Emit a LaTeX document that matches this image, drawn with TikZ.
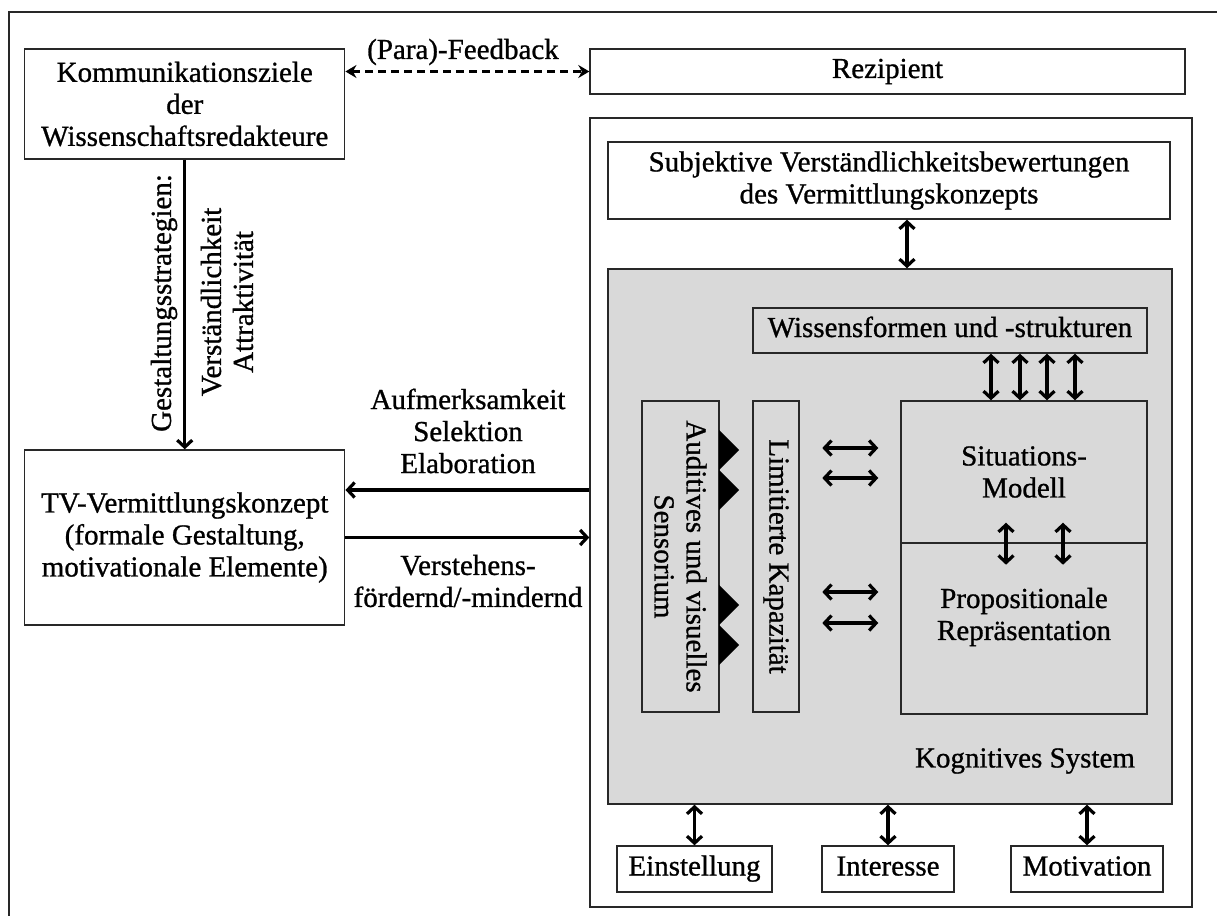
\documentclass[tikz,border=0pt]{standalone}
\usepackage{fontspec}
\setmainfont{Liberation Serif}[FakeBold=0.9]
\usetikzlibrary{arrows.meta,calc}
\definecolor{boxline}{RGB}{40,40,40}
\definecolor{kogfill}{RGB}{217,217,217}
\begin{document}
\begin{tikzpicture}[x=1pt,y=-1pt,
  every node/.style={font=\fontsize{29}{32}\selectfont, align=center},
  box/.style={draw=boxline, line width=1.4pt, inner sep=0pt},
  oneline/.style={text height=19pt, text depth=6pt},
  frame/.style={draw=boxline, line width=2pt},
  barb/.tip={Straight Barb[length=7pt,width=15pt]},
  arr/.style={line width=3.2pt, -barb},
  darr/.style={line width=3.2pt, barb-barb},
  feedarr/.style={line width=2.8pt, dash pattern=on 8pt off 5pt,
    {Stealth[length=11pt,width=13pt]}-{Stealth[length=11pt,width=13pt]}}
]
\useasboundingbox (0,0) rectangle (1217,915);
\begin{scope}
  \clip (0,0) rectangle (1217,915);
  \draw[frame] (9,12) rectangle (1240,940);
\end{scope}

% left column
\node[box, minimum width=320pt, minimum height=110pt] (komm) at (184.75,104)
  {Kommunikationsziele\\der\\Wissenschaftsredakteure};
\node[box, minimum width=320pt, minimum height=175pt] (tv) at (184.75,537.5)
  {TV-Vermittlungskonzept\\(formale Gestaltung,\\motivationale Elemente)};

% recipient
\node[box, oneline, minimum width=595pt, minimum height=45pt] (rez) at (887.5,71.5) {Rezipient};
\node[box, minimum width=602pt, minimum height=789pt] (cont) at (891,512.5) {};
\node[box, minimum width=562pt, minimum height=77pt] (subj) at (889,180.5)
  {Subjektive Verständlichkeitsbewertungen\\des Vermittlungskonzepts};

% cognitive system
\node[box, fill=kogfill, minimum width=564pt, minimum height=535pt] (kog) at (890,536.5) {};
\node (kogL) at (1025,761) {Kognitives System};
\node[box, oneline, minimum width=394pt, minimum height=45pt] (wiss) at (950,330.5)
  {Wissensformen und -strukturen};
\node[box, rotate=-90, minimum width=311pt, minimum height=77pt] (sens) at (680.5,556.5)
  {Auditives und visuelles\\Sensorium};
\node[box, rotate=-90, minimum width=311pt, minimum height=46pt] (lim) at (776,556.5)
  {Limitierte Kapazität};
\node[box, minimum width=246pt, minimum height=142pt] (sit) at (1024,472)
  {Situations-\\Modell};
\node[box, minimum width=246pt, minimum height=171pt] (prop) at (1024,628.5) {};
\node (propL) at (1024,617) {Propositionale\\Repräsentation};

% sensory input markers
\foreach \y in {450,490,605,645}
  \fill (719,\y-20) -- (739,\y) -- (719,\y+20) -- cycle;

% attitude boxes
\node[box, oneline, minimum width=155pt, minimum height=46pt] (einst) at (694.5,869) {Einstellung};
\node[box, oneline, minimum width=132pt, minimum height=46pt] (inter) at (888,869) {Interesse};
\node[box, oneline, minimum width=152pt, minimum height=46pt] (motiv) at (1087,869) {Motivation};

% labels
\node (feed) at (463,52) {(Para)-Feedback};
\node (ase) at (468,431) {Aufmerksamkeit\\Selektion\\Elaboration};
\node (vst) at (468,581) {Verstehens-\\fördernd/-mindernd};
\node[rotate=90] (gest) at (164,303) {Gestaltungsstrategien:};
\node[rotate=90] (verst) at (227,302) {Verständlichkeit\\Attraktivität};

% connectors
\draw[feedarr] (komm.east |- rez.west) -- (rez.west);
\draw[arr] (komm.south) -- (tv.north);
\coordinate (ya) at (0,490);
\draw[arr] (cont.west |- ya) -- (tv.east |- ya);
\draw[arr] (tv.east) -- (tv.east -| cont.west);
\coordinate (xs) at (907,0);
\draw[darr] (xs |- subj.south) -- (xs |- kog.north);
\foreach \x in {991,1020,1047,1075}
  \draw[darr] (\x,0 |- wiss.south) -- (\x,0 |- sit.north);
\foreach \x in {1006,1063}
  \draw[darr] ($(\x,0 |- sit.south)+(0,-21)$) -- ($(\x,0 |- sit.south)+(0,21)$);
\foreach \y in {448,478,592,623}
  \draw[darr] ($(sit.west |- 0,\y)+(-78,0)$) -- ($(sit.west |- 0,\y)+(-22,0)$);
\draw[darr] (einst.north) -- (einst.north |- kog.south);
\draw[darr] (inter.north) -- (inter.north |- kog.south);
\draw[darr] (motiv.north) -- (motiv.north |- kog.south);
\end{tikzpicture}
\end{document}
